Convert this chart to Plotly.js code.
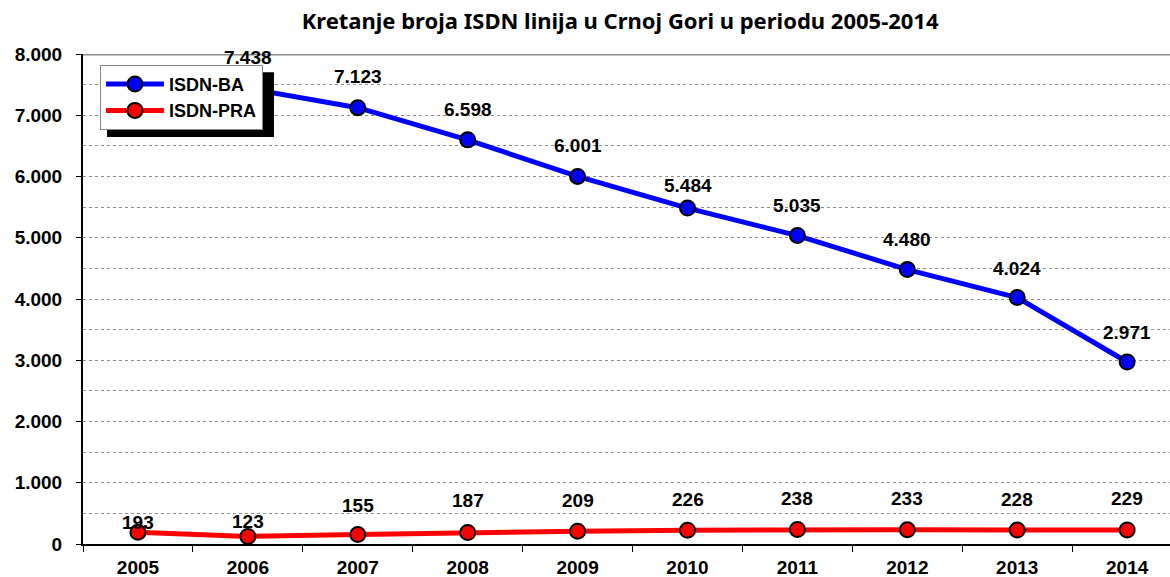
<!DOCTYPE html>
<html>
<head>
<meta charset="utf-8">
<script src="https://cdn.plot.ly/plotly-3.0.1.min.js"></script>
<style>html,body{margin:0;padding:0;background:#fff;}#chart{width:1170px;height:577px;}</style>
</head>
<body>
<div id="chart"></div>
<script>
// ---- data ----
const years = ['2005','2006','2007','2008','2009','2010','2011','2012','2013','2014'];
const isdnBA = [null, 7438, 7123, 6598, 6001, 5484, 5035, 4480, 4024, 2971];
const isdnPRA = [193, 123, 155, 187, 209, 226, 238, 233, 228, 229];
const seriesNames = ['ISDN-BA', 'ISDN-PRA'];
const chartTitle = 'Kretanje broja ISDN linija u Crnoj Gori u periodu 2005-2014';

// ---- style ----
const labelShiftBA = [0, 31, 31, 30, 31, 23, 30, 30, 29, 30];
const labelShiftPRA = [10, 15, 29, 32, 31, 31, 31, 31, 31, 31];
const axisFont = {family: 'Liberation Sans, Arial, sans-serif', size: 19, color: '#000', weight: 700};
const legendFont = {family: 'Liberation Sans, Arial, sans-serif', size: 18, color: '#000', weight: 700};

function fmt(v){ return v.toString().replace(/\B(?=(\d{3})+(?!\d))/g, '.'); }

const traces = [
  {x: years, y: isdnBA, name: seriesNames[0], type: 'scatter', mode: 'lines+markers',
   line: {color: '#0000FF', width: 5}, connectgaps: false,
   marker: {color: '#0000FF', size: 15, line: {color: '#000', width: 2}}},
  {x: years, y: isdnPRA, name: seriesNames[1], type: 'scatter', mode: 'lines+markers',
   line: {color: '#FF0000', width: 5},
   marker: {color: '#FF0000', size: 15, line: {color: '#000', width: 2}}}
];

const annotations = [];
years.forEach((yr, i) => {
  if (isdnBA[i] != null) annotations.push({x: i, y: isdnBA[i], text: fmt(isdnBA[i]), showarrow: false,
    yshift: labelShiftBA[i], font: axisFont, xref: 'x', yref: 'y'});
  annotations.push({x: i, y: isdnPRA[i], text: fmt(isdnPRA[i]), showarrow: false,
    yshift: labelShiftPRA[i], font: axisFont, xref: 'x', yref: 'y'});
});

const layout = {
  width: 1170, height: 577,
  margin: {l: 83, r: 0, t: 54, b: 33, pad: 0},
  paper_bgcolor: '#fff', plot_bgcolor: '#fff',
  separators: ',.',
  title: {text: chartTitle, font: {family: 'Noto Sans, Open Sans, sans-serif', size: 22, color: '#000', weight: 700},
          xref: 'container', x: 0.53, yref: 'container', y: 0.963, xanchor: 'center', yanchor: 'middle'},
  xaxis: {type: 'category', range: [-0.5, 9.39], showgrid: false, zeroline: false,
          showline: true, linecolor: '#000', linewidth: 2,
          ticks: 'outside', tickson: 'boundaries', ticklen: 6, tickcolor: '#000', tickwidth: 1,
          tickfont: axisFont, ticklabelstandoff: 5},
  yaxis: {range: [0, 8000], dtick: 1000, tickformat: ',d', separatethousands: true,
          showgrid: true, gridcolor: '#8c8c8c', griddash: 'dot', gridwidth: 1,
          minor: {dtick: 500, showgrid: true, gridcolor: '#8c8c8c', griddash: 'dot', gridwidth: 1},
          zeroline: false, showline: true, linecolor: '#000', linewidth: 2,
          ticks: 'outside', ticklen: 5, tickcolor: '#000', tickwidth: 1,
          tickfont: axisFont, ticklabelstandoff: 10},
  showlegend: true,
  legend: {x: 0.0156, y: 0.978, xanchor: 'left', yanchor: 'top', xref: 'paper', yref: 'paper',
           bgcolor: '#fff', bordercolor: '#888', borderwidth: 1,
           font: legendFont, tracegroupgap: 0, itemwidth: 58},
  shapes: [
    {type: 'line', xref: 'paper', yref: 'y', x0: 0, x1: 1, y0: 8000, y1: 8000,
     line: {color: '#8c8c8c', width: 3}, layer: 'above'},
    {type: 'rect', xref: 'paper', yref: 'paper', x0: 0.0221, x1: 0.1757, y0: 0.8306, y1: 0.963,
     fillcolor: '#000', line: {width: 0}, layer: 'above'}
  ],
  annotations: annotations
};

Plotly.newPlot('chart', traces, layout, {displayModeBar: false, staticPlot: true});
</script>
</body>
</html>
